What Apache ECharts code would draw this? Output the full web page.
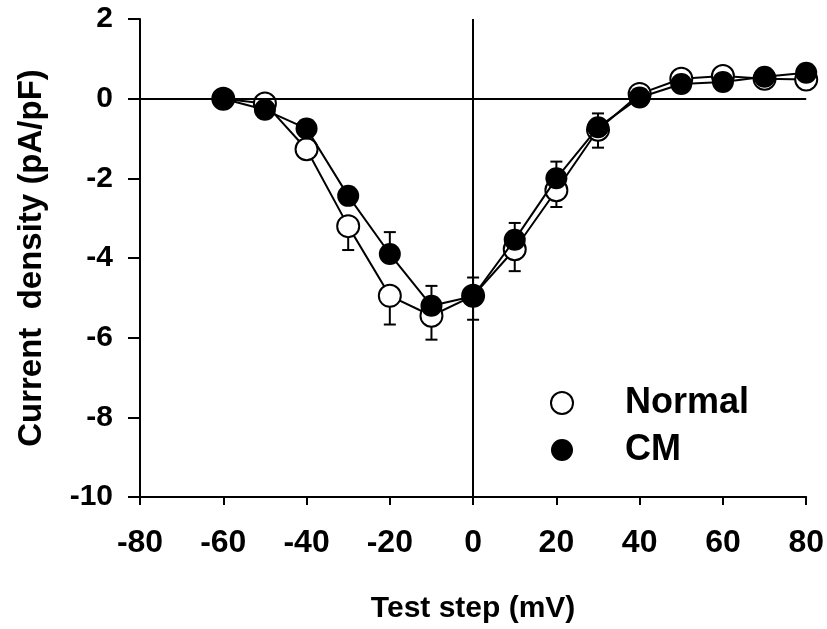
<!DOCTYPE html>
<html>
<head>
<meta charset="utf-8">
<script src="https://cdn.jsdelivr.net/npm/echarts@6/dist/echarts.min.js"></script>
<style>
html,body{margin:0;padding:0;background:#fff;}
#chart{width:827px;height:629px;}
</style>
</head>
<body>
<div id="chart"></div>
<script>
var testStep = [-60, -50, -40, -30, -20, -10, 0, 10, 20, 30, 40, 50, 60, 70, 80];
var normalMean = [0, -0.12, -1.27, -3.2, -4.95, -5.45, -4.95, -3.78, -2.3, -0.78, 0.12, 0.5, 0.57, 0.5, 0.48];
var normalErr  = [0, 0, 0, 0.6, 0.72, 0.6, 0.6, 0.55, 0.42, 0.45, 0, 0, 0, 0, 0];
var cmMean     = [0, -0.28, -0.75, -2.44, -3.9, -5.2, -4.96, -3.54, -2.0, -0.72, 0.03, 0.37, 0.42, 0.55, 0.65];
var cmErr      = [0, 0, 0, 0, 0.55, 0.5, 0.47, 0.42, 0.42, 0.35, 0, 0, 0, 0, 0];
var xTicks = {min: -80, max: 80, interval: 20};
var yTicks = {min: -10, max: 2, interval: 2};

var FONT = '"Liberation Sans", Arial, Helvetica, sans-serif';

function pairs(xs, ys) { return xs.map(function (x, i) { return [x, ys[i]]; }); }
function errData(xs, ys, es, dir) {
  var out = [];
  xs.forEach(function (x, i) { if (es[i] > 0) out.push([x, ys[i], ys[i] + dir * es[i]]); });
  return out;
}
function errRender(params, api) {
  var p0 = api.coord([api.value(0), api.value(1)]);
  var p1 = api.coord([api.value(0), api.value(2)]);
  var hw = 6;
  return {
    type: 'group',
    children: [
      {type: 'line', shape: {x1: p0[0], y1: p0[1], x2: p1[0], y2: p1[1]}, style: {stroke: '#000', lineWidth: 2}},
      {type: 'line', shape: {x1: p1[0] - hw, y1: p1[1], x2: p1[0] + hw, y2: p1[1]}, style: {stroke: '#000', lineWidth: 2}}
    ]
  };
}

var chart = echarts.init(document.getElementById('chart'));
chart.setOption({
  animation: false,
  backgroundColor: '#fff',
  grid: {left: 140, right: 17, top: 19, bottom: 129, containLabel: false},
  xAxis: {
    type: 'value', min: xTicks.min, max: xTicks.max, interval: xTicks.interval,
    name: 'Test step (mV)', nameLocation: 'middle', nameGap: 97,
    nameTextStyle: {fontFamily: FONT, fontSize: 30, fontWeight: 'bold', color: '#000'},
    axisLine: {onZero: false, lineStyle: {color: '#000', width: 2}},
    axisTick: {inside: false, length: 8, lineStyle: {color: '#000', width: 2}},
    axisLabel: {fontFamily: FONT, fontSize: 32, fontWeight: 'bold', color: '#000', margin: 30},
    splitLine: {show: false}
  },
  yAxis: {
    type: 'value', min: yTicks.min, max: yTicks.max, interval: yTicks.interval,
    name: 'Current  density (pA/pF)', nameLocation: 'middle', nameGap: 92,
    nameTextStyle: {fontFamily: FONT, fontSize: 33, fontWeight: 'bold', color: '#000'},
    axisLine: {onZero: false, lineStyle: {color: '#000', width: 2}},
    axisTick: {inside: false, length: 12, lineStyle: {color: '#000', width: 2}},
    axisLabel: {fontFamily: FONT, fontSize: 30, fontWeight: 'bold', color: '#000', margin: 27},
    splitLine: {show: false}
  },
  legend: {
    orient: 'vertical', left: 550, top: 385, padding: 0,
    itemWidth: 22, itemHeight: 22, itemGap: 11,
    icon: 'circle',
    textStyle: {fontFamily: FONT, fontSize: 36, lineHeight: 36, fontWeight: 'bold', color: '#000', padding: [0, 0, 0, 47]},
    data: [
      {name: 'Normal', itemStyle: {color: '#fff', borderColor: '#000', borderWidth: 2}},
      {name: 'CM', itemStyle: {color: '#000', borderColor: '#000', borderWidth: 0}}
    ]
  },
  series: [
    {
      name: 'Normal', type: 'line', data: pairs(testStep, normalMean), z: 3,
      symbol: 'circle', symbolSize: 22,
      lineStyle: {color: '#000', width: 2},
      itemStyle: {color: '#fff', borderColor: '#000', borderWidth: 2},
      markLine: {
        silent: true, symbol: 'none', label: {show: false},
        lineStyle: {color: '#000', width: 2, type: 'solid'},
        data: [{xAxis: 0}, {yAxis: 0}]
      }
    },
    {
      name: 'NormalErr', type: 'custom', renderItem: errRender, z: 2,
      data: errData(testStep, normalMean, normalErr, -1)
    },
    {
      name: 'CMErr', type: 'custom', renderItem: errRender, z: 4,
      data: errData(testStep, cmMean, cmErr, 1)
    },
    {
      name: 'CM', type: 'line', data: pairs(testStep, cmMean), z: 5,
      symbol: 'circle', symbolSize: 22,
      lineStyle: {color: '#000', width: 2},
      itemStyle: {color: '#000', borderColor: '#000', borderWidth: 0}
    }
  ]
});
</script>
</body>
</html>
